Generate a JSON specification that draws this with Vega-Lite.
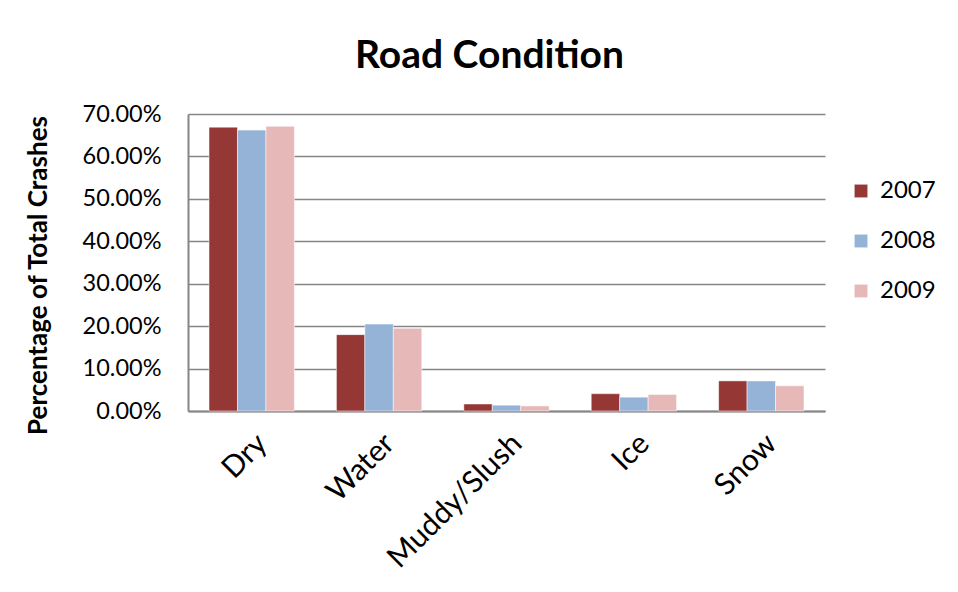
{
  "$schema": "https://vega.github.io/schema/vega-lite/v6.json",
  "autosize": {"type": "none"},
  "width": 637,
  "height": 297,
  "padding": {"left": 188, "top": 114, "right": 133, "bottom": 181},
  "background": "white",
  "title": {
    "text": "Road Condition",
    "font": "Lato",
    "fontSize": 39,
    "fontWeight": "bold",
    "color": "#000000",
    "anchor": "middle",
    "frame": "group",
    "dx": -17,
    "offset": 26
  },
  "data": {
    "values": [
      {"condition": "Dry", "year": "2007", "pct": 0.669},
      {"condition": "Dry", "year": "2008", "pct": 0.662},
      {"condition": "Dry", "year": "2009", "pct": 0.671},
      {"condition": "Water", "year": "2007", "pct": 0.180},
      {"condition": "Water", "year": "2008", "pct": 0.205},
      {"condition": "Water", "year": "2009", "pct": 0.195},
      {"condition": "Muddy/Slush", "year": "2007", "pct": 0.0165},
      {"condition": "Muddy/Slush", "year": "2008", "pct": 0.0137},
      {"condition": "Muddy/Slush", "year": "2009", "pct": 0.012},
      {"condition": "Ice", "year": "2007", "pct": 0.0408},
      {"condition": "Ice", "year": "2008", "pct": 0.0326},
      {"condition": "Ice", "year": "2009", "pct": 0.039},
      {"condition": "Snow", "year": "2007", "pct": 0.071},
      {"condition": "Snow", "year": "2008", "pct": 0.071},
      {"condition": "Snow", "year": "2009", "pct": 0.0595}
    ]
  },
  "mark": {"type": "bar"},
  "encoding": {
    "x": {
      "field": "condition",
      "type": "nominal",
      "sort": ["Dry", "Water", "Muddy/Slush", "Ice", "Snow"],
      "scale": {"paddingInner": 0.33, "paddingOuter": 0.165},
      "axis": {
        "title": null,
        "labelAngle": -45,
        "labelFont": "Lato",
        "labelFontSize": 30,
        "labelColor": "#000000",
        "labelPadding": 17,
        "ticks": false,
        "grid": false,
        "domainColor": "#868686",
        "domainWidth": 2
      }
    },
    "xOffset": {"field": "year", "type": "nominal"},
    "y": {
      "field": "pct",
      "type": "quantitative",
      "scale": {"domain": [0, 0.7], "nice": false},
      "axis": {
        "title": "Percentage of Total Crashes",
        "titleFont": "Lato",
        "titleFontSize": 26,
        "titleFontWeight": "bold",
        "titleColor": "#000000",
        "titleX": -150,
        "titleY": 161,
        "titleAlign": "center",
        "titleBaseline": "middle",
        "titleAngle": 270,
        "format": ".2%",
        "values": [0, 0.1, 0.2, 0.3, 0.4, 0.5, 0.6, 0.7],
        "labelFont": "Lato",
        "labelFontSize": 23.5,
        "labelColor": "#000000",
        "labelPadding": 27,
        "ticks": false,
        "grid": true,
        "gridColor": "#868686",
        "gridWidth": 1.5,
        "domainColor": "#868686",
        "domainWidth": 2
      }
    },
    "color": {
      "field": "year",
      "type": "nominal",
      "scale": {"domain": ["2007", "2008", "2009"], "range": ["#953735", "#95B3D7", "#E6B9B8"]},
      "legend": {
        "title": null,
        "orient": "none",
        "legendX": 661,
        "legendY": 65,
        "symbolType": "square",
        "symbolSize": 180,
        "symbolStrokeWidth": 0,
        "labelFont": "Lato",
        "labelFontSize": 24,
        "labelColor": "#000000",
        "labelOffset": 7,
        "rowPadding": 26
      }
    }
  },
  "config": {
    "view": {"stroke": null},
    "bar": {"stroke": "white", "strokeWidth": 0.5}
  }
}
